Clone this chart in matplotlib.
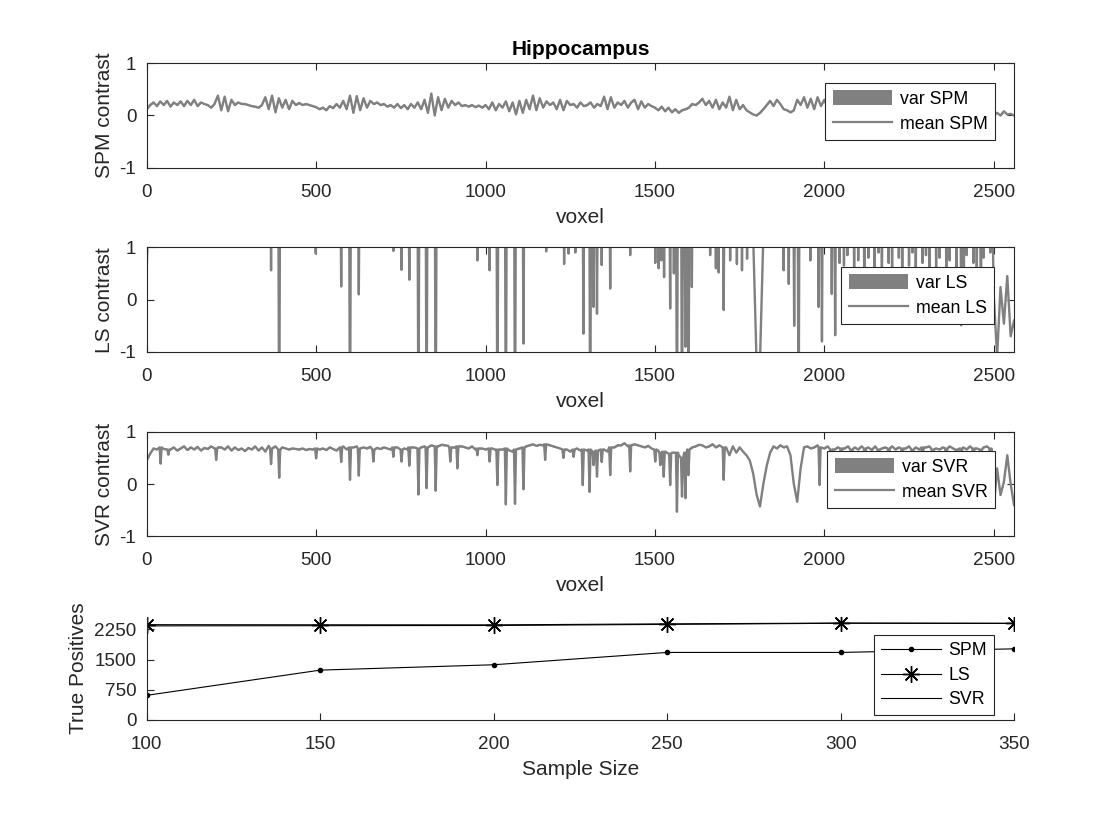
import numpy as np
import matplotlib
matplotlib.use("Agg")
import matplotlib.pyplot as plt
from matplotlib.patches import Patch
from matplotlib.lines import Line2D

plt.rcParams['font.family'] = ['Liberation Sans', 'DejaVu Sans']
plt.rcParams['axes.unicode_minus'] = False

# ---------------- data ----------------
voxel = np.arange(0, 2561, 10)

spm_mean = [
    0.12, 0.2, 0.25, 0.18, 0.27, 0.2, 0.28, 0.17, 0.25, 0.2,
    0.27, 0.18, 0.28, 0.2, 0.3, 0.18, 0.25, 0.22, 0.2, 0.15,
    0.22, 0.38, 0.1, 0.36, 0.08, 0.3, 0.2, 0.25, 0.22, 0.22,
    0.2, 0.18, 0.17, 0.15, 0.2, 0.35, 0.12, 0.38, 0.06, 0.33,
    0.15, 0.3, 0.12, 0.28, 0.2, 0.24, 0.2, 0.22, 0.2, 0.18,
    0.16, 0.12, 0.15, 0.1, 0.18, 0.14, 0.22, 0.15, 0.28, 0.12,
    0.38, 0.05, 0.37, 0.1, 0.33, 0.15, 0.28, 0.22, 0.25, 0.2,
    0.22, 0.17, 0.2, 0.15, 0.22, 0.14, 0.2, 0.12, 0.22, 0.15,
    0.25, 0.12, 0.3, 0.05, 0.42, 0.0, 0.35, 0.1, 0.32, 0.15,
    0.28, 0.2, 0.25, 0.18, 0.2, 0.17, 0.2, 0.16, 0.19, 0.15,
    0.2, 0.12, 0.25, 0.1, 0.22, 0.15, 0.27, 0.08, 0.25, 0.02,
    0.28, 0.05, 0.3, 0.12, 0.38, 0.1, 0.33, 0.15, 0.27, 0.2,
    0.25, 0.12, 0.3, 0.1, 0.28, 0.2, 0.22, 0.15, 0.25, 0.18,
    0.2, 0.25, 0.15, 0.22, 0.18, 0.36, 0.12, 0.35, 0.15, 0.25,
    0.2, 0.28, 0.15, 0.25, 0.3, 0.12, 0.27, 0.15, 0.22, 0.18,
    0.15, 0.1, 0.17, 0.08, 0.15, 0.06, 0.12, 0.05, 0.1, 0.12,
    0.15, 0.22, 0.2, 0.25, 0.32, 0.2, 0.28, 0.15, 0.3, 0.12,
    0.25, 0.15, 0.36, 0.1, 0.3, 0.12, 0.2, 0.1, 0.06, 0.02,
    0.0, 0.05, 0.12, 0.2, 0.28, 0.18, 0.3, 0.22, 0.12, 0.1,
    0.06, 0.1, 0.3, 0.2, 0.35, 0.15, 0.32, 0.12, 0.35, 0.18,
    0.3, 0.15, 0.28, 0.12, 0.25, 0.18, 0.3, 0.1, 0.26, 0.15,
    0.22, 0.12, 0.3, 0.15, 0.25, 0.1, 0.28, 0.18, 0.2, 0.12,
    0.25, 0.1, 0.22, 0.15, 0.2, 0.08, 0.18, 0.12, 0.2, 0.1,
    0.18, 0.08, 0.2, 0.12, 0.15, 0.05, 0.18, 0.1, 0.15, 0.06,
    0.12, 0.05, 0.15, 0.08, 0.1, 0.02, 0.12, 0.05, 0.08, 0.03,
    0.02, 0.05, 0.0, 0.08, 0.02, 0.03, 0.0,
]

# LS: values above 1 / below -1 leave the plotted range (clipped)
ls_base = [
    0.56, 3, 3, 3, 3, 3, 3, 3, 3, 3,
    3, 3, 3, 3, 3, 3, 3, 3, 3, 3,
    3, 3, 3, 3, 3, 3, 3, 3, 3, 3,
    3, 3, 3, 3, 3, 3, 3, 3, 3, 3,
    3, 3, 3, 3, 3, 3, 3, 3, 3, 3,
    3, 3, 3, 3, 3, 3, 3, 3, 3, 3,
    3, 3, 3, 3, 3, 3, 3, 3, 3, 3,
    3, 3, 3, 3, 3, 3, 3, 3, 3, 3,
    3, 3, 3, 3, 3, 3, 3, 3, 3, 3,
    3, 3, 3, 3, 3, 3, 3, 3, 3, 3,
    3, 3, 3, 3, 3, 3, 3, 3, 3, 3,
    3, 3, 3, 3, 3, 3, 3, 3, 3, 3,
    3, 3, 3, 3, 3, 3, 3, 3, 3, 3,
    3, 3, 3, 3, 3, 3, 3, 3, 3, 3,
    3, 3, 3, 3, 3, 3, 3, 3, 3, 3,
    3, 3, 3, 3, 3, 3, 3, 3, 3, 3,
    3, 3, 3, 3, 3, 3, 3, 3, 3, 3,
    3, 3, 3, 3, 3, 3, 3, 3, 3, 1.2,
    -1.2, -1.2, 1.2, 3, 3, 3, 3, 3, 3, 3,
    3, 3, 3, 3, 3, 3, 3, 3, 3, 3,
    3, 3, 3, 3, 3, 3, 3, 3, 3, 3,
    3, 3, 3, 3, 3, 3, 3, 3, 3, 3,
    3, 3, 3, 3, 3, 3, 3, 3, 3, 3,
    3, 3, 3, 3, 3, 3, 3, 3, 3, 3,
    3, 3, 3, 3, 3, 3, 3, 3, 3, 3,
    0.1, -1.1, 0.24, -0.46, 0.45, -0.7, -0.4,
]
ls_spike_voxel = [
    367, 391, 499, 574, 600, 626, 728, 752, 775, 802, 826, 853,
    976, 1012, 1035, 1060, 1087, 1112, 1179, 1232, 1245, 1265,
    1289, 1309, 1319, 1329, 1343, 1368, 1427,
    1501, 1511, 1519, 1527, 1545, 1556, 1565, 1580, 1590, 1599, 1609,
    1663, 1680, 1688, 1703, 1722, 1742, 1757, 1772,
    1880, 1895, 1911, 1924, 1959, 1983, 1993, 2022, 2032,
    2045, 2058, 2068, 2088, 2100, 2118, 2130, 2148, 2160, 2170,
    2190, 2200, 2220, 2230, 2250, 2260, 2270, 2290, 2300, 2310,
    2330, 2340, 2360, 2370, 2390, 2404, 2412, 2420, 2440, 2450,
    2462, 2470, 2490,
]
ls_spike_value = [
    0.56, -3, 0.88, 0.25, -3, 0.1, 0.93, 0.57, 0.38, -3, -3, -3,
    0.75, 0.56, -3, -3, -3, -0.84, 0.92, 0.68, 0.88, 0.9,
    -0.65, -3, -0.14, -0.27, 0.66, 0.21, 0.85,
    0.7, 0.6, 0.75, 0.43, -0.17, 0.5, -3, -3, -0.9, -3, 0.24,
    0.85, 0.6, 0.52, -0.2, 0.75, 0.68, 0.56, 0.78,
    0.56, 0.3, -0.5, -3, 0.75, -0.14, -0.8, 0.11, -0.68,
    0.7, 0.65, 0.85, 0.5, 0.75, 0.3, 0.8, 0.6, 0.9, 0.4,
    0.7, 0.55, 0.8, 0.2, 0.65, 0.9, 0.45, 0.7, 0.85, 0.35,
    0.6, 0.8, 0.5, 0.75, 0.3, -0.49, 0.6, 0.85, 0.7, 0.5,
    -0.45, 0.8, 0.9,
]

svr_base = [
    0.45, 0.58, 0.68, 0.66, 0.7, 0.67, 0.66, 0.66, 0.7, 0.64,
    0.68, 0.72, 0.65, 0.7, 0.66, 0.71, 0.64, 0.69, 0.67, 0.72,
    0.68, 0.7, 0.7, 0.66, 0.72, 0.64, 0.7, 0.65, 0.68, 0.63,
    0.69, 0.66, 0.72, 0.64, 0.7, 0.62, 0.73, 0.68, 0.72, 0.66,
    0.7, 0.68, 0.66, 0.68, 0.67, 0.66, 0.68, 0.65, 0.67, 0.66,
    0.68, 0.66, 0.68, 0.65, 0.7, 0.67, 0.64, 0.7, 0.72, 0.66,
    0.7, 0.7, 0.72, 0.68, 0.7, 0.68, 0.71, 0.66, 0.69, 0.67,
    0.7, 0.68, 0.66, 0.7, 0.7, 0.66, 0.68, 0.66, 0.7, 0.7,
    0.68, 0.7, 0.72, 0.7, 0.74, 0.72, 0.72, 0.75, 0.74, 0.73,
    0.7, 0.7, 0.72, 0.72, 0.7, 0.68, 0.72, 0.66, 0.68, 0.68,
    0.66, 0.68, 0.68, 0.65, 0.66, 0.66, 0.68, 0.64, 0.62, 0.66,
    0.68, 0.7, 0.72, 0.74, 0.76, 0.73, 0.75, 0.74, 0.76, 0.74,
    0.72, 0.7, 0.68, 0.66, 0.66, 0.62, 0.66, 0.68, 0.64, 0.66,
    0.64, 0.66, 0.62, 0.64, 0.66, 0.66, 0.62, 0.7, 0.7, 0.74,
    0.74, 0.78, 0.72, 0.74, 0.76, 0.74, 0.72, 0.7, 0.73, 0.68,
    0.66, 0.64, 0.6, 0.62, 0.58, 0.6, 0.6, 0.55, 0.5, 0.6,
    0.66, 0.7, 0.72, 0.75, 0.74, 0.7, 0.72, 0.76, 0.7, 0.74,
    0.7, 0.7, 0.55, 0.72, 0.6, 0.7, 0.62, 0.55, 0.45, 0.2,
    -0.2, -0.43, 0.0, 0.35, 0.6, 0.72, 0.68, 0.74, 0.7, 0.72,
    0.55, 0.0, -0.34, 0.3, 0.7, 0.72, 0.68, 0.7, 0.74, 0.7,
    0.68, 0.72, 0.66, 0.66, 0.7, 0.68, 0.68, 0.72, 0.66, 0.7,
    0.66, 0.72, 0.68, 0.7, 0.65, 0.72, 0.66, 0.68, 0.7, 0.68,
    0.72, 0.66, 0.7, 0.68, 0.68, 0.72, 0.66, 0.7, 0.66, 0.7,
    0.7, 0.72, 0.66, 0.68, 0.66, 0.7, 0.68, 0.72, 0.68, 0.66,
    0.68, 0.7, 0.66, 0.72, 0.68, 0.68, 0.66, 0.7, 0.72, 0.68,
    -0.46, 0.3, -0.21, 0.04, 0.55, 0.0, -0.4,
]
svr_spike_voxel = [
    41, 64, 205, 367, 391, 500, 574, 600, 626, 669, 728, 752, 775,
    802, 826, 853, 896, 917, 976, 1012, 1035, 1060, 1087, 1112,
    1176, 1230, 1260, 1287, 1307, 1319, 1329, 1343, 1368, 1427,
    1501, 1516, 1526, 1545, 1565, 1580, 1590, 1599, 1703, 1986,
    2020, 2050, 2080, 2120, 2160, 2190, 2230, 2260, 2290, 2320,
    2360, 2390, 2404, 2440, 2462, 2490,
]
svr_spike_value = [
    0.39, 0.56, 0.46, 0.38, 0.12, 0.49, 0.42, 0.08, 0.16, 0.43, 0.52, 0.43, 0.35,
    -0.2, -0.08, -0.13, 0.43, 0.3, 0.55, 0.43, -0.02, -0.39, -0.38, -0.1,
    0.46, 0.5, 0.52, -0.02, -0.15, 0.36, 0.14, 0.42, 0.17, 0.24,
    0.43, 0.36, 0.14, -0.02, -0.53, -0.24, -0.27, 0.17, 0.08, -0.02,
    0.3, 0.2, 0.4, 0.1, 0.35, 0.2, 0.0, 0.4, 0.3, 0.2,
    0.1, 0.35, -0.2, 0.4, -0.1, 0.5,
]

# half-width of the (very thin) variance band
spm_var = 0.012
ls_var = 0.012
svr_var = 0.012

sample_size = [100, 150, 200, 250, 300, 350]
tp_spm = [611, 1237, 1370, 1676, 1676, 1765]
tp_ls = [2365, 2362, 2360, 2385, 2405, 2400]
tp_svr = [2335, 2340, 2345, 2372, 2400, 2395]


def with_spikes(grid, base, spike_x, spike_v, half=3.0):
    """Merge a coarse base curve with narrow single-voxel spikes."""
    gx = np.asarray(grid, float)
    gb = np.asarray(base, float)
    keep = np.ones(len(gx), bool)
    px, py = [], []
    for d, v in zip(spike_x, spike_v):
        b = gb[int(round(d / 10.0))]
        keep[np.abs(gx - d) <= half + 0.5] = False
        px += [d - half, d, d + half]
        py += [b, v, b]
    x = np.concatenate([gx[keep], px])
    y = np.concatenate([gb[keep], py])
    order = np.argsort(x, kind='stable')
    return x[order], y[order]


spm_x, spm_y = voxel.astype(float), np.asarray(spm_mean, float)
ls_x, ls_y = with_spikes(voxel, ls_base, ls_spike_voxel, ls_spike_value)
svr_x, svr_y = with_spikes(voxel, svr_base, svr_spike_voxel, svr_spike_value)

# ---------------- style ----------------
AX_COL = '#262626'
GRAY = '#808080'
TICK_FS = 13.6
LAB_FS = 15.0
LEG_FS = 12.8

fig = plt.figure(figsize=(11.2, 8.4), dpi=100)

rects = [
    [0.131, 0.8004, 0.7744, 0.1243],
    [0.131, 0.5810, 0.7744, 0.1246],
    [0.131, 0.3615, 0.7744, 0.1246],
    [0.131, 0.1429, 0.7744, 0.1228],
]
legend_anchor = [(0.978, 0.811), (0.977, 0.812), (0.978, 0.815), (0.977, 0.824)]

series = [
    (spm_x, spm_y, spm_var, 'SPM'),
    (ls_x, ls_y, ls_var, 'LS'),
    (svr_x, svr_y, svr_var, 'SVR'),
]

LEG_KW = dict(loc='upper right', borderaxespad=0, fontsize=LEG_FS,
              fancybox=False, framealpha=1, edgecolor=AX_COL,
              handlelength=3.35, handletextpad=0.42, labelspacing=0.42,
              borderpad=0.41)


def style_axes(ax, box=True):
    for side, sp in ax.spines.items():
        sp.set_color(AX_COL)
        sp.set_linewidth(0.8)
    ax.tick_params(direction='in', length=5, width=0.8, colors=AX_COL,
                   labelsize=TICK_FS, labelcolor=AX_COL,
                   top=box, right=box)
    ax.tick_params(axis='x', pad=11.5)
    ax.tick_params(axis='y', pad=7.5)


for k, (x, m, var, name) in enumerate(series):
    ax = fig.add_axes(rects[k])
    ax.fill_between(x, m - var, m + var, color=GRAY, lw=0)
    ax.plot(x, m, color=GRAY, lw=1.7)
    ax.set_xlim(0, 2560)
    ax.set_ylim(-1, 1)
    ax.set_xticks([0, 500, 1000, 1500, 2000, 2500])
    ax.set_yticks([-1, 0, 1])
    style_axes(ax, box=True)
    ax.set_xlabel('voxel', fontsize=LAB_FS, color=AX_COL, labelpad=5)
    ax.set_ylabel(f'{name} contrast', fontsize=LAB_FS, color=AX_COL, labelpad=4)
    handles = [Patch(facecolor=GRAY, edgecolor='none'),
               Line2D([], [], color=GRAY, lw=1.6)]
    leg = ax.legend(handles, [f'var {name}', f'mean {name}'],
                    bbox_to_anchor=legend_anchor[k], handleheight=0.9,
                    **LEG_KW)
    leg.get_frame().set_linewidth(0.8)
    if k == 0:
        ax.set_title('Hippocampus', fontsize=LAB_FS, fontweight='bold',
                     color='black', pad=6)

ax4 = fig.add_axes(rects[3])
ax4.plot(sample_size, tp_spm, color='black', lw=0.8, marker='.', ms=6,
         label='SPM')
ax4.plot(sample_size, tp_ls, color='black', lw=0.8, marker=(8, 2, 0), ms=12,
         mew=1.0, label='LS')
ax4.plot(sample_size, tp_svr, color='black', lw=0.8, label='SVR')
ax4.set_xlim(100, 350)
ax4.set_ylim(0, 2560)
ax4.set_xticks([100, 150, 200, 250, 300, 350])
ax4.set_yticks([0, 750, 1500, 2250])
ax4.spines['top'].set_visible(False)
ax4.spines['right'].set_visible(False)
style_axes(ax4, box=False)
ax4.set_xlabel('Sample Size', fontsize=LAB_FS, color=AX_COL, labelpad=5)
ax4.set_ylabel('True Positives', fontsize=LAB_FS, color=AX_COL, labelpad=4)
leg = ax4.legend(bbox_to_anchor=legend_anchor[3], **LEG_KW)
leg.get_frame().set_linewidth(0.8)

fig.savefig('out.png', dpi=100, facecolor='white')
